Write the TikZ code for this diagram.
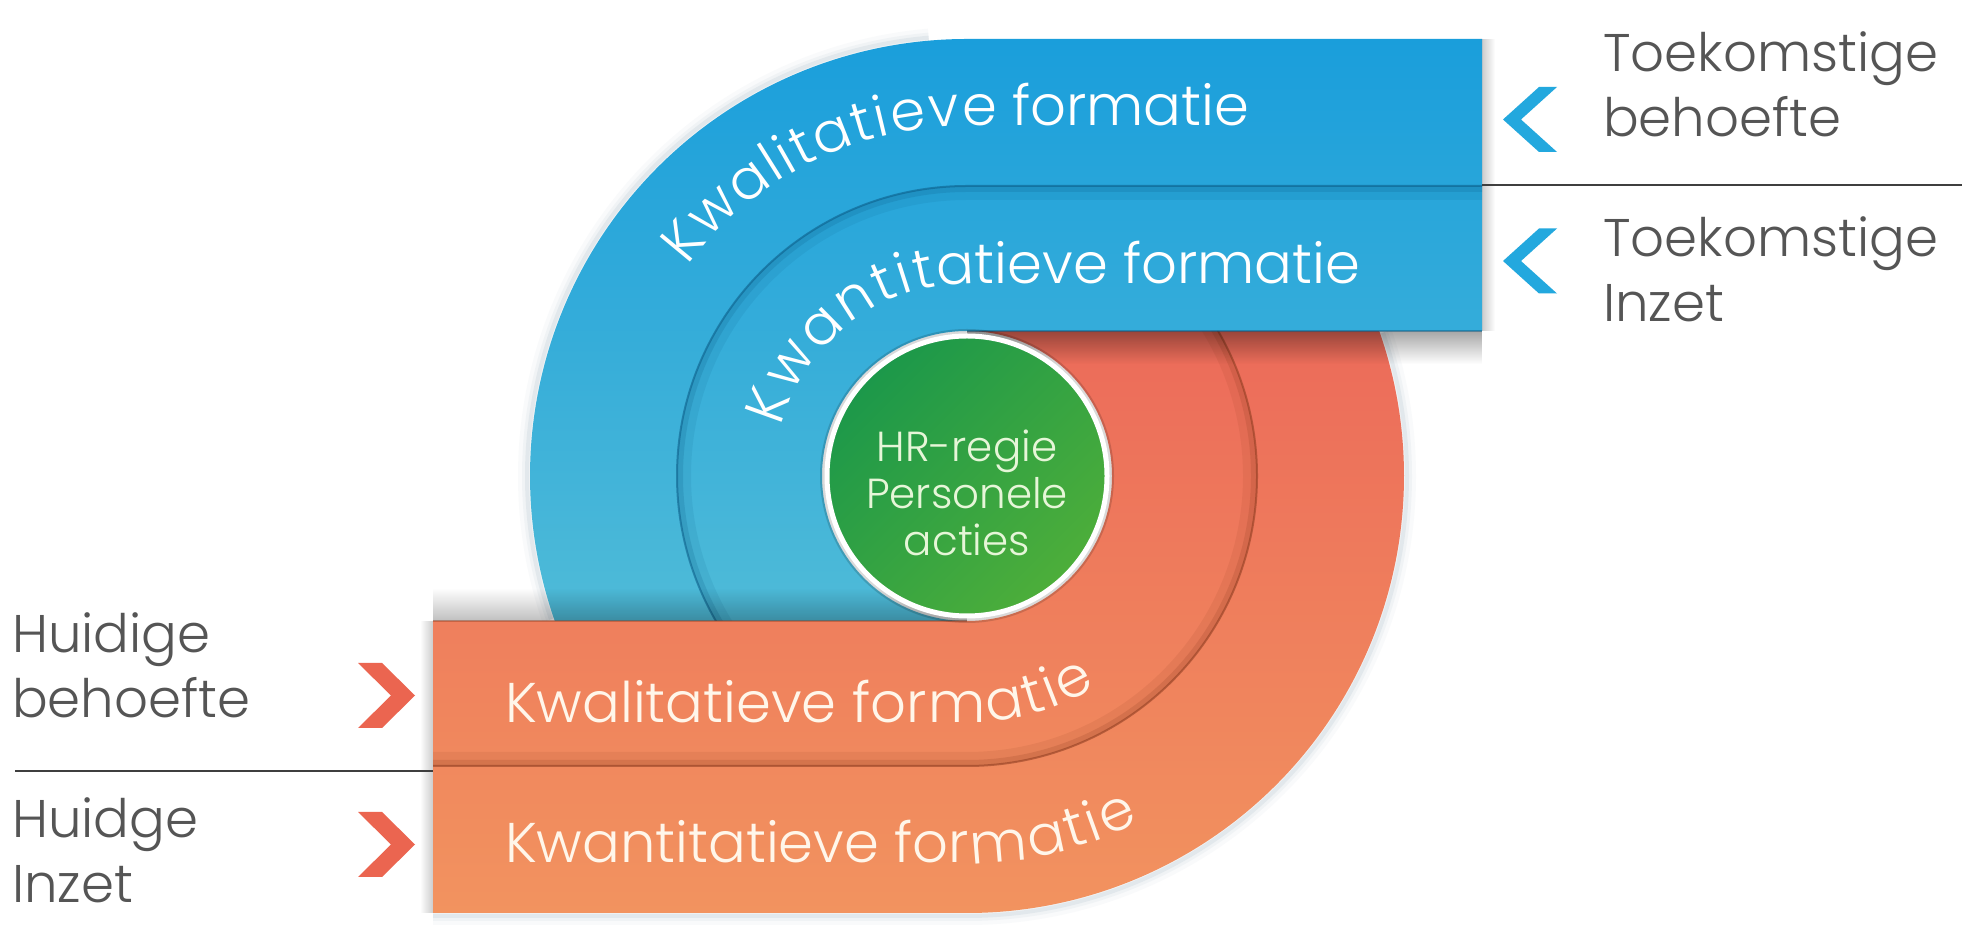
\documentclass[tikz,border=0pt]{standalone}
\usepackage{fontspec}
\setmainfont{Poppins Light}
\usetikzlibrary{decorations.text,fadings}
\definecolor{blueA}{HTML}{1A9EDB}
\definecolor{blueB}{HTML}{4FBBD8}
\definecolor{orA}{HTML}{EC6B5A}
\definecolor{orB}{HTML}{F2935F}
\definecolor{grA}{HTML}{1C984A}
\definecolor{grB}{HTML}{4DAE3A}
\definecolor{labelgray}{HTML}{555555}
\definecolor{chevblue}{HTML}{23A8DE}
\definecolor{chevorange}{HTML}{EB6550}
\definecolor{seamblue}{HTML}{0A5B86}
\definecolor{seamorange}{HTML}{8C3B1F}
\definecolor{bandtext}{HTML}{FFF6EA}
\definecolor{hrtextc}{HTML}{E6F6D8}
\definecolor{haloc}{HTML}{8FA6B8}
\definecolor{sepc}{HTML}{3F3F3F}

\tikzfading[name=fadeS, top color=transparent!0, bottom color=transparent!100]
\tikzfading[name=fadeN, top color=transparent!100, bottom color=transparent!0]
\tikzfading[name=fadeE, left color=transparent!0, right color=transparent!100]
\tikzfading[name=fadeW, left color=transparent!100, right color=transparent!0]

\newcommand\bluepath{(1482,887) -- (967,887) arc[start angle=90,end angle=199.38,radius=437] -- (967,305) arc[start angle=270,end angle=90,radius=145] -- (1482,595) -- cycle}
\newcommand\orangepath{(433,13) -- (967,13) arc[start angle=-90,end angle=19.38,radius=437] -- (967,595) arc[start angle=90,end angle=-90,radius=145] -- (433,305) -- cycle}
\newcommand\blueseam[1]{(1490,740-#1) -- (967,740-#1) arc[start angle=90,end angle=225,radius=290-#1]}
\newcommand\orangeseam[1]{(425,160+#1) -- (967,160+#1) arc[start angle=-90,end angle=45,radius=290-#1]}
\newcommand\chevleft[2]{(#1,#2) -- (#1+36,#2+32.5) -- (#1+54,#2+32.5) -- (#1+18,#2) -- (#1+54,#2-32.5) -- (#1+36,#2-32.5) -- cycle}
\newcommand\chevright[2]{(#1,#2) -- (#1-33,#2+32.5) -- (#1-57,#2+32.5) -- (#1-24,#2) -- (#1-57,#2-32.5) -- (#1-33,#2-32.5) -- cycle}
\newcommand\bandfont{\fontsize{56}{62}\selectfont}

\begin{document}
\begin{tikzpicture}[x=1pt,y=1pt,
  lbl/.style={anchor=base west, inner sep=0, text=labelgray, font=\fontsize{53}{65}\selectfont},
  sepline/.style={draw=sepc, line width=2.5},
  bandtxt/.style={decorate, decoration={text along path, text align=left, text={#1}}}]
\useasboundingbox (0,0) rectangle (1962,926);
\fill[white] (0,0) rectangle (1962,926);
\coordinate (C) at (967,450);

% soft outer halos
\foreach \w/\o in {18/0.05, 10/0.08, 4/0.14} {
  \draw[line width=\w, draw=haloc, opacity=\o] ([shift={(95:440)}]C) arc[start angle=95,end angle=199,radius=440];
  \draw[line width=\w, draw=haloc, opacity=\o] (433,10) -- (967,10) arc[start angle=-90,end angle=19,radius=440];
}

% band fills
\shade[top color=orA, bottom color=orB] \orangepath;
\shade[top color=blueA, middle color=blueA!80!blueB, bottom color=blueB] \bluepath;

% seams between inner and outer bands
\begin{scope}
  \clip \bluepath;
  \draw[seamblue, opacity=.10, line width=14] \blueseam{7};
  \draw[seamblue, opacity=.18, line width=6] \blueseam{3};
  \draw[seamblue, opacity=.55, line width=2] \blueseam{0};
\end{scope}
\begin{scope}
  \clip \orangepath;
  \draw[seamorange, opacity=.10, line width=14] \orangeseam{7};
  \draw[seamorange, opacity=.18, line width=6] \orangeseam{3};
  \draw[seamorange, opacity=.55, line width=2] \orangeseam{0};
\end{scope}

% shadows at the band ends
\fill[black, opacity=.35, path fading=fadeS] (967,562) rectangle (1482,595);
\fill[black, opacity=.25, path fading=fadeN] (433,305) rectangle (967,338);
\fill[black, opacity=.2, path fading=fadeE] (1482,595) rectangle (1495,887);
\fill[black, opacity=.2, path fading=fadeW] (420,13) rectangle (433,305);
\draw[seamblue, opacity=.5, line width=1.5] (967,595) -- (1482,595);
\draw[seamorange, opacity=.4, line width=1.5] (433,305) -- (967,305);

% band texts (letters on the curves slightly spaced, as in the original)
\path[bandtxt={|\bandfont\color{white}|K{\kern2pt}w{\kern2pt}a{\kern2pt}l{\kern2pt}i{\kern2pt}t{\kern2pt}a{\kern2pt}t{\kern2pt}i{\kern2pt}e{\kern2pt}v{\kern2pt}e formatie}]
  ([shift={(143:350)}]C) arc[start angle=143,end angle=90,radius=350] -- ++(700,0);
\path[bandtxt={|\bandfont\color{white}|K{\kern3pt}w{\kern3pt}a{\kern3pt}n{\kern3pt}t{\kern3pt}i{\kern3pt}tatieve formatie}]
  ([shift={(165:192)}]C) arc[start angle=165,end angle=90,radius=192] -- ++(700,0);
\path[bandtxt={|\bandfont\color{bandtext}|Kwalitatieve for{\kern2pt}m{\kern3pt}a{\kern3pt}t{\kern3pt}i{\kern3pt}e}]
  (505,203) -- (967,203) arc[start angle=-90,end angle=20,radius=247];
\path[bandtxt={|\bandfont\color{bandtext}|Kwantitatieve for{\kern2pt}m{\kern3pt}a{\kern3pt}t{\kern3pt}i{\kern3pt}e}]
  (505,63) -- (967,63) arc[start angle=-90,end angle=10,radius=387];

% centre circle
\fill[black, opacity=.15] (C) circle (147);
\node[circle, inner sep=0, minimum size=280, draw=white, line width=5,
      top color=grA, bottom color=grB, shading angle=45] (hr) at (C) {};
\node[align=center, text=hrtextc, font=\fontsize{42}{47}\selectfont] (hrtext) at (967,433) {HR-regie\\Personele\\acties};

% chevrons
\fill[chevblue] \chevleft{1503}{806.5};
\fill[chevblue] \chevleft{1503}{665};
\fill[chevorange] \chevright{415}{230.5};
\fill[chevorange] \chevright{415}{81.5};

% separator lines
\draw[sepline] (1482,741) -- (1962,741);
\draw[sepline] (15,155) -- (433,155);

% side labels
\node[lbl] (tb) at (1603,854) {\begin{tabular}[t]{@{}l@{}}Toekomstige\\behoefte\end{tabular}};
\node[lbl] (ti) at (1603,669) {\begin{tabular}[t]{@{}l@{}}Toekomstige\\Inzet\end{tabular}};
\node[lbl] (hb) at (12,273) {\begin{tabular}[t]{@{}l@{}}Huidige\\behoefte\end{tabular}};
\node[lbl] (hi) at (12,88) {\begin{tabular}[t]{@{}l@{}}Huidge\\Inzet\end{tabular}};
\end{tikzpicture}
\end{document}
